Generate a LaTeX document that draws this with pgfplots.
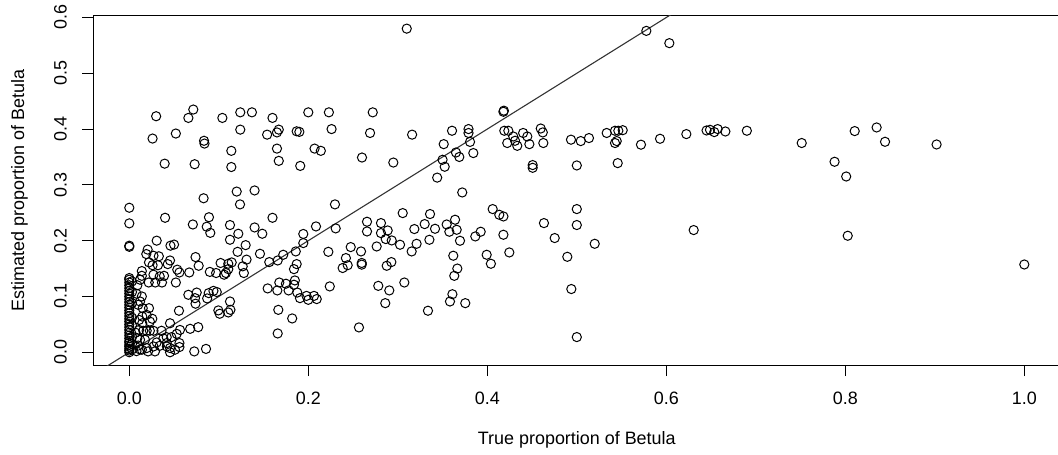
\documentclass[border=0pt]{standalone}
\usepackage{pgfplots}
\pgfplotsset{compat=1.18}
\usepackage{fontspec}
\setmainfont{Liberation Sans}
\begin{document}
\begin{tikzpicture}
\begin{axis}[
    scale only axis,
    width=966.6bp, height=349.5bp,
    xmin=-0.04, xmax=1.04,
    ymin=-0.0232, ymax=0.6032,
    xtick={0,0.2,0.4,0.6,0.8,1},
    xticklabels={0.0,0.2,0.4,0.6,0.8,1.0},
    ytick={0,0.1,0.2,0.3,0.4,0.5,0.6},
    yticklabels={0.0,0.1,0.2,0.3,0.4,0.5,0.6},
    tick align=outside,
    tick pos=left,
    major tick length=11bp,
    tick style={black, line width=1.1bp},
    axis line style={black, line width=1.1bp},
    tick label style={font=\fontsize{18}{22}\selectfont, inner sep=0pt},
    xticklabel style={anchor=north},
    yticklabel style={rotate=90, anchor=south},
    xticklabel shift=15.5bp,
    yticklabel shift=15.5bp,
    xlabel={True proportion of Betula},
    ylabel={Estimated proportion of Betula},
    every axis x label/.style={at={(axis description cs:0.5,-0.2132)}, anchor=center,
        font=\fontsize{18}{22}\selectfont},
    every axis y label/.style={at={(axis description cs:-0.0766,0.5)}, anchor=center, rotate=90,
        font=\fontsize{18}{22}\selectfont},
    clip=true,
]
\coordinate (sw) at (rel axis cs:0,0);
\coordinate (ne) at (rel axis cs:1,1);

% 1:1 line
\addplot[black!80, line width=1.1bp] coordinates {(-0.04,-0.04) (1.04,1.04)};

\addplot[only marks, mark=o, mark size=4.6bp, mark options={line width=1bp, draw=black}] coordinates {
% x = 0 column
(0,0.259)(0,0.231)(0,0.191)(0,0.189)
(0,0)(0,0.003)(0,0.006)(0,0.010)(0,0.013)(0,0.017)(0,0.020)(0,0.025)(0,0.030)(0,0.035)
(0,0.040)(0,0.045)(0,0.050)(0,0.055)(0,0.060)(0,0.065)(0,0.070)(0,0.075)(0,0.080)(0,0.085)
(0,0.090)(0,0.095)(0,0.100)(0,0.105)(0,0.110)(0,0.115)(0,0.120)(0,0.125)(0,0.130)(0,0.133)
(0.003,0.005)(0.003,0.015)(0.003,0.028)(0.003,0.048)(0.003,0.062)(0.003,0.088)(0.003,0.108)(0.003,0.127)
(0.008,0.002)(0.010,0.012)(0.009,0.025)(0.012,0.005)(0.007,0.035)(0.011,0.058)(0.009,0.120)(0.012,0.130)(0.008,0.105)(0.010,0.085)
% low x, upper part
(0.030,0.423)(0.0715,0.435)(0.066,0.420)(0.026,0.383)(0.052,0.392)(0.0835,0.379)(0.084,0.374)
(0.0395,0.338)(0.073,0.337)(0.083,0.276)(0.040,0.241)(0.071,0.229)(0.089,0.242)(0.0865,0.225)
(0.0905,0.214)(0.1125,0.228)(0.1125,0.2016)(0.0205,0.184)(0.0306,0.200)(0.046,0.191)(0.050,0.193)
% low x, lower part
(0.019,0.176)(0.027,0.173)(0.033,0.172)(0.022,0.161)(0.026,0.156)(0.032,0.156)(0.043,0.158)
(0.0455,0.1645)(0.014,0.1455)(0.0536,0.148)(0.056,0.143)(0.067,0.143)(0.074,0.1706)(0.0775,0.155)
(0.090,0.144)(0.097,0.142)(0.102,0.160)(0.108,0.142)(0.1106,0.1586)(0.014,0.137)(0.027,0.139)
(0.034,0.136)(0.0217,0.125)(0.029,0.125)(0.0365,0.125)(0.0388,0.137)(0.052,0.125)(0.066,0.103)
(0.0753,0.107)(0.0734,0.097)(0.074,0.087)(0.087,0.0965)(0.0887,0.106)(0.094,0.110)(0.0977,0.108)
(0.0555,0.0744)(0.1125,0.091)(0.014,0.100)(0.012,0.091)(0.015,0.079)(0.022,0.079)(0.0194,0.067)
(0.023,0.055)(0.0257,0.060)(0.011,0.040)(0.0156,0.0385)(0.0194,0.0385)(0.023,0.0385)(0.027,0.0385)
(0.036,0.0385)(0.012,0.0224)(0.0175,0.0224)(0.038,0.0247)(0.0418,0.0165)(0.0455,0.0075)(0.047,0.027)
(0.056,0.0165)(0.056,0.0093)(0.042,0.0104)(0.034,0.0116)(0.027,0.0104)(0.0194,0.0075)(0.014,0.0045)
(0.021,0.0015)(0.0287,0.0015)(0.051,0.0045)(0.0455,0)(0.0726,0.0015)(0.0857,0.006)(0.0566,0.040)
(0.068,0.042)(0.077,0.045)(0.0455,0.052)(0.053,0.033)(0.0145,0.064)(0.0145,0.052)(0.0306,0.0176)
(0.0418,0.027)(0.0995,0.075)(0.1106,0.0713)
% 0.1 - 0.3, upper
(0.310,0.580)(0.104,0.420)(0.124,0.430)(0.137,0.430)(0.160,0.420)(0.200,0.430)(0.223,0.430)
(0.272,0.430)(0.124,0.399)(0.154,0.390)(0.165,0.394)(0.167,0.399)(0.187,0.396)(0.190,0.395)
(0.226,0.400)(0.269,0.393)(0.316,0.390)(0.114,0.361)(0.165,0.365)(0.207,0.365)(0.214,0.361)
(0.114,0.332)(0.167,0.343)(0.191,0.334)(0.260,0.349)(0.295,0.340)(0.120,0.288)(0.140,0.290)
% 0.1 - 0.32, lower
(0.1237,0.265)(0.2298,0.265)(0.160,0.241)(0.140,0.2237)(0.1486,0.2124)(0.1218,0.2124)(0.130,0.192)
(0.121,0.180)(0.146,0.1765)(0.1144,0.161)(0.1106,0.149)(0.131,0.166)(0.1267,0.154)(0.106,0.139)
(0.128,0.142)(0.101,0.069)(0.113,0.076)
(0.2086,0.2255)(0.1944,0.212)(0.1944,0.1957)(0.186,0.1807)(0.172,0.1747)(0.1658,0.1645)(0.1564,0.1616)
(0.187,0.158)(0.184,0.149)(0.2306,0.222)(0.2224,0.180)(0.1676,0.125)(0.175,0.1228)(0.185,0.1287)
(0.184,0.121)(0.1546,0.1144)(0.1654,0.1108)(0.178,0.1108)(0.1877,0.107)(0.1907,0.097)(0.198,0.101)
(0.200,0.094)(0.2064,0.101)(0.2094,0.0953)(0.224,0.118)(0.1665,0.076)(0.182,0.0606)(0.1658,0.0337)
(0.2566,0.0445)
(0.2474,0.1885)(0.2589,0.1807)(0.242,0.1688)(0.244,0.156)(0.2384,0.151)(0.2597,0.160)(0.2597,0.157)
(0.2656,0.2339)(0.2656,0.2165)(0.2812,0.2315)(0.2812,0.2136)(0.2887,0.2183)(0.2865,0.2029)(0.2932,0.2004)
(0.2764,0.1896)(0.3025,0.1927)(0.3055,0.2494)(0.3185,0.2208)(0.321,0.1944)(0.3155,0.1807)(0.2876,0.155)
(0.2928,0.1616)(0.2782,0.119)(0.2905,0.1108)(0.3073,0.125)(0.286,0.088)
% 0.33 - 0.53, upper
(0.418,0.431)(0.4185,0.433)(0.3606,0.397)(0.379,0.400)(0.379,0.393)(0.3513,0.373)(0.3807,0.377)
(0.365,0.358)(0.3687,0.350)(0.3844,0.357)(0.350,0.345)(0.3524,0.3325)(0.344,0.313)(0.372,0.2864)
(0.419,0.397)(0.4235,0.397)(0.429,0.3867)(0.431,0.379)(0.4335,0.370)(0.4223,0.375)(0.440,0.393)
(0.4447,0.3867)(0.447,0.373)(0.4597,0.401)(0.462,0.394)(0.4626,0.375)(0.4507,0.3355)(0.4507,0.3306)
(0.4935,0.381)(0.5044,0.3785)(0.5136,0.3839)(0.5334,0.393)(0.500,0.3348)
% 0.33 - 0.52, lower
(0.330,0.2297)(0.336,0.2477)(0.3353,0.2016)(0.3416,0.2213)(0.3546,0.229)(0.364,0.2375)(0.3576,0.216)
(0.3658,0.2195)(0.3695,0.1998)(0.362,0.173)(0.3665,0.150)(0.3631,0.137)(0.361,0.104)(0.3583,0.091)
(0.3754,0.088)(0.3337,0.0744)(0.3866,0.2076)(0.3926,0.216)(0.406,0.2566)(0.4134,0.2464)(0.418,0.2434)
(0.418,0.2106)(0.3993,0.1747)(0.404,0.1586)(0.4246,0.1789)(0.4633,0.2315)(0.4753,0.2047)(0.4894,0.1711)
(0.4939,0.1133)(0.500,0.2566)(0.500,0.228)(0.520,0.1944)(0.500,0.0272)
% right part
(0.5777,0.576)(0.6034,0.554)(0.5427,0.397)(0.5464,0.397)(0.5513,0.398)(0.5427,0.375)(0.5446,0.3785)
(0.5457,0.339)(0.5717,0.372)(0.593,0.3826)(0.6224,0.391)(0.645,0.3975)(0.6488,0.3987)(0.6536,0.3946)
(0.6574,0.400)(0.666,0.3957)(0.690,0.397)(0.6306,0.219)(0.7513,0.375)(0.788,0.3414)(0.801,0.315)
(0.8105,0.3964)(0.835,0.4029)(0.8444,0.3772)(0.902,0.3724)(0.8027,0.2088)(1.000,0.1573)
};
\end{axis}
\pgfresetboundingbox
\path[use as bounding box] ([shift={(-93.5bp,-89.5bp)}]sw) rectangle ([shift={(-2.1bp,15.7bp)}]ne);
\end{tikzpicture}
\end{document}
